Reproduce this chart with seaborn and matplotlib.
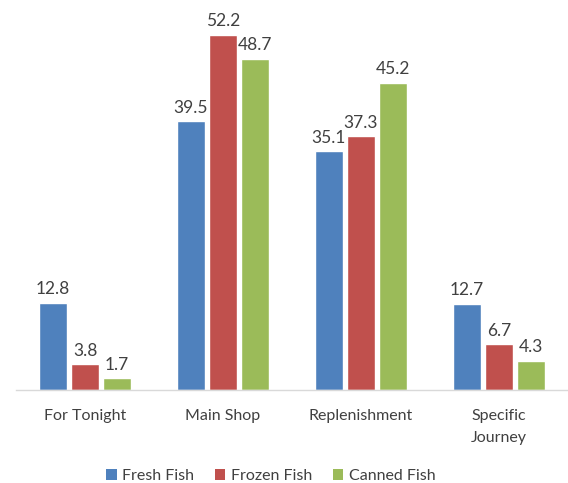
import matplotlib
matplotlib.use("Agg")
import matplotlib.pyplot as plt
import seaborn as sns
import pandas as pd
from matplotlib.patches import Patch

categories = ["For Tonight", "Main Shop", "Replenishment", "Specific\nJourney"]
series = ["Fresh Fish", "Frozen Fish", "Canned Fish"]
fresh = [12.8, 39.5, 35.1, 12.7]
frozen = [3.8, 52.2, 37.3, 6.7]
canned = [1.7, 48.7, 45.2, 4.3]
colors = ["#4F81BD", "#C0504D", "#9BBB59"]

rows = []
for name, vals in zip(series, [fresh, frozen, canned]):
    for c, v in zip(categories, vals):
        rows.append({"category": c, "series": name, "value": v})
df = pd.DataFrame(rows)

sns.set_theme(style="white")
plt.rcParams["font.family"] = ["Lato", "DejaVu Sans"]
text_color = "#404040"

fig = plt.figure(figsize=(5.68, 4.83), dpi=100)
ax = fig.add_axes([16 / 568, 1 - 390 / 483, 1 - 16 / 568, 390 / 483])
sns.barplot(data=df, x="category", y="value", hue="series", order=categories,
            hue_order=series, palette=colors, width=0.7, gap=0.13,
            saturation=1, ax=ax, legend=False, errorbar=None)

for cont in ax.containers:
    ax.bar_label(cont, labels=[f"{v:.1f}" for v in cont.datavalues],
                 padding=4, fontsize=12.5, color=text_color)

ax.set_ylim(0, 57.35)
ax.set_xlim(-0.5, 3.5)
ax.set_yticks([])
ax.set_xlabel("")
ax.set_ylabel("")
for s in ["top", "right", "left"]:
    ax.spines[s].set_visible(False)
ax.spines["bottom"].set_color("#D9D9D9")
ax.spines["bottom"].set_linewidth(1)
ax.tick_params(axis="x", length=0, pad=14, labelsize=11.5, labelcolor=text_color)
for lbl in ax.get_xticklabels():
    lbl.set_linespacing(1.65)

handles = [Patch(facecolor=c, edgecolor="none") for c in colors]
fig.legend(handles, series, loc="center", bbox_to_anchor=(271 / 568, 1 - 476 / 483),
           ncol=3, frameon=False, fontsize=11.5, labelcolor=text_color,
           borderpad=0, borderaxespad=0,
           handlelength=0.65, handleheight=0.65, handletextpad=0.35, columnspacing=1.3)

fig.savefig("out.png", dpi=100)
